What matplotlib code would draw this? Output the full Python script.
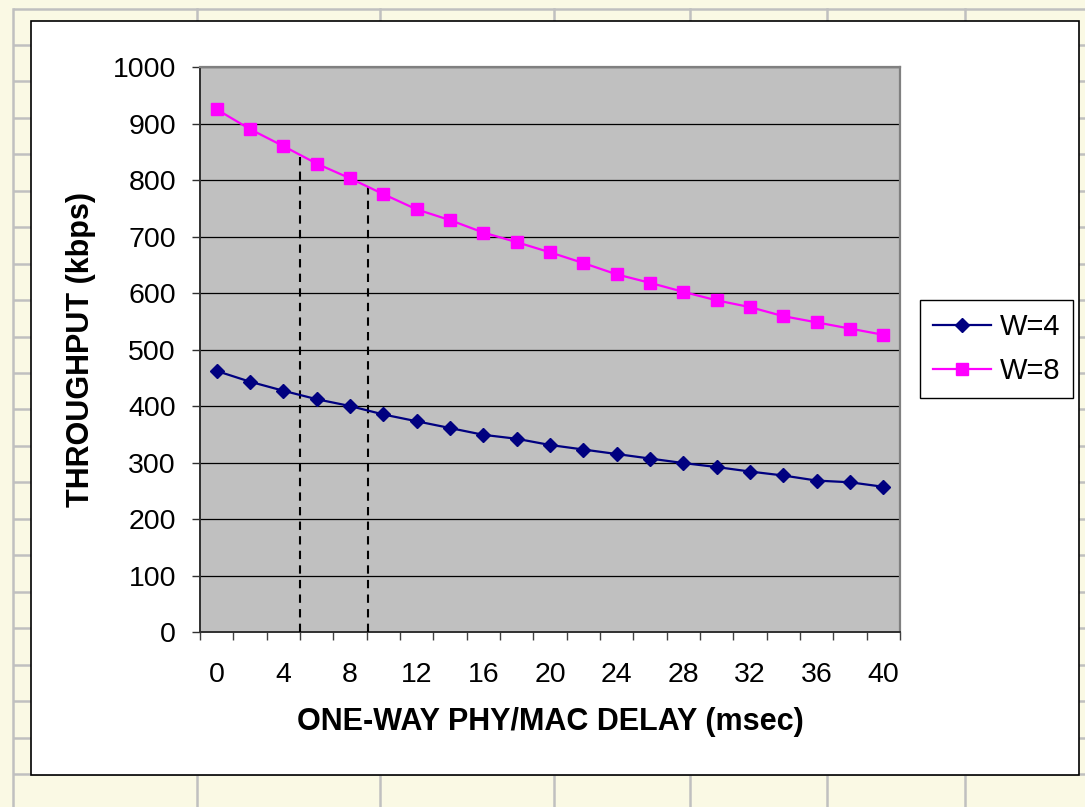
import numpy as np
import matplotlib
matplotlib.use("Agg")
import matplotlib.pyplot as plt
from matplotlib.ticker import FixedLocator, NullFormatter
from matplotlib.patches import Rectangle

# ---------------- data ----------------
delays = list(range(0, 41, 2))                       # msec (category axis)
w4 = [462, 443, 427, 412, 400, 385, 373, 361, 349, 342, 331,
      323, 315, 307, 299, 292, 284, 277, 268, 265, 257]
w8 = [925, 890, 860, 829, 803, 775, 748, 729, 707, 690, 672,
      653, 633, 618, 602, 587, 575, 559, 548, 537, 526]
series_labels = ["W=4", "W=8"]
marked_delays = [5, 9.1]                              # dashed reference lines
yticks = list(range(0, 1001, 100))
xtick_labels = [str(d) for d in delays[::2]]

# ---------------- figure ----------------
W, H = 1085, 807
fig = plt.figure(figsize=(W / 100, H / 100), dpi=100)
fig.patch.set_facecolor("#FAF9E4")
plt.rcParams["font.family"] = ["Liberation Sans", "DejaVu Sans"]

# spreadsheet background (pixel coordinates)
bg = fig.add_axes([0, 0, 1, 1])
bg.set_xlim(0, W)
bg.set_ylim(H, 0)
bg.axis("off")
bg.set_facecolor("#FAF9E4")
gcol = "#C0C0C0"
glw = 1.8
y0 = 8.5
rows = y0 + 36.45 * np.arange(0, 23)
for yy in rows:
    bg.plot([12.5, W], [yy, yy], color=gcol, lw=glw, solid_capstyle="butt")
bg.plot([12.5, 12.5], [y0, H], color=gcol, lw=glw)
for xx in [197, 380, 554, 690, 827, 965]:
    bg.plot([xx, xx], [y0, H], color=gcol, lw=glw)
bg.add_patch(Rectangle((30.5, 20.5), 1079 - 30.5, 774.5 - 20.5,
                       facecolor="white", edgecolor="black", lw=1.2, zorder=5))

# ---------------- main plot ----------------
L, R, T, B = 200, 900, 67, 632
ax = fig.add_axes([L / W, 1 - B / H, (R - L) / W, (B - T) / H])
ax.set_facecolor("#C0C0C0")
idx = np.arange(len(delays))

ax.set_xlim(-0.5, len(delays) - 0.5)
ax.set_ylim(0, 1000)

# gridlines
ax.set_yticks(yticks)
ax.yaxis.grid(True, color="black", lw=0.9)
ax.set_axisbelow(True)

# dashed reference lines up to the W=8 curve
for d in marked_delays:
    xi = d / 2.0
    top = np.interp(xi, idx, w8)
    ax.plot([xi, xi], [0, top], color="black", lw=1.5, ls=(0, (4, 3)), zorder=3)

ax.plot(idx, w4, color="#000080", lw=1.6, marker="D", ms=7.4,
        mfc="#000080", mec="#000080", label=series_labels[0], zorder=4)
ax.plot(idx, w8, color="#FF00FF", lw=1.6, marker="s", ms=8.8,
        mfc="#FF00FF", mec="#FF00FF", label=series_labels[1], zorder=4)

# spines
for s in ["left", "bottom"]:
    ax.spines[s].set_color("#303030")
    ax.spines[s].set_linewidth(1.4)
for s in ["top", "right"]:
    ax.spines[s].set_color("#808080")
    ax.spines[s].set_linewidth(1.6)

# x ticks: boundaries (major, unlabeled), labels at every other category (minor)
ax.xaxis.set_major_locator(FixedLocator(np.arange(-0.5, len(delays), 1)))
ax.xaxis.set_major_formatter(NullFormatter())
ax.tick_params(axis="x", which="major", direction="out", length=5.8,
               width=1.0, color="#404040")
ax.set_xticks(idx[::2], xtick_labels, minor=True)
ax.tick_params(axis="x", which="minor", length=0, pad=21.5, labelsize=20.5)

ax.tick_params(axis="y", direction="out", length=5.8, width=1.0,
               color="#303030", pad=11.5, labelsize=20.5)

# axis titles
fig.text((L + R) / 2 / W, 1 - 730 / H, "ONE-WAY PHY/MAC DELAY (msec)",
         ha="center", va="baseline", fontsize=22, fontweight="bold")
fig.text(81 / W, 1 - (T + B) / 2 / H, "THROUGHPUT (kbps)", rotation=90,
         ha="center", va="center", fontsize=22, fontweight="bold")

# legend
leg = fig.legend(loc="center", bbox_to_anchor=(996.5 / W, 1 - 349 / H),
                 fontsize=21, frameon=True, fancybox=False, numpoints=1,
                 handlelength=2.0, handletextpad=0.3, labelspacing=0.55,
                 borderpad=0.45, borderaxespad=0)
leg.get_frame().set_edgecolor("black")
leg.get_frame().set_linewidth(1.0)
leg.get_frame().set_facecolor("white")
leg.get_frame().set_alpha(1)

fig.savefig("out.png", dpi=100, facecolor=fig.get_facecolor())
